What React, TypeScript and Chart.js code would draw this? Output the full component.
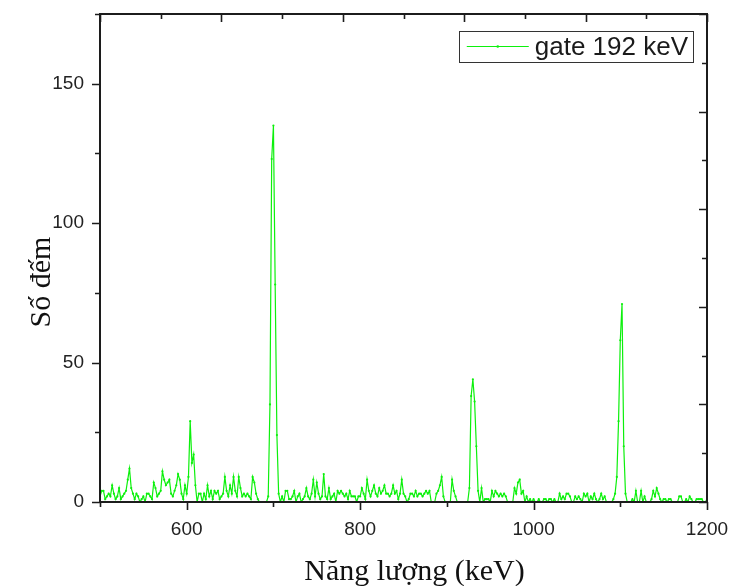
import React, { useEffect, useRef } from "react";
import { Chart, registerables } from "chart.js";

Chart.register(...registerables);

// ---- data ----
const ENERGY_START = 500; // keV, first channel
const ENERGY_STEP = 2; // keV per channel
const COUNTS: number[] = [
  2, 4, 4, 1, 2, 3, 2, 6, 3, 1,
  2, 5, 1, 2, 3, 4, 8, 12, 5, 3,
  1, 3, 2, 0, 1, 2, 0, 3, 3, 2,
  1, 7, 5, 2, 3, 4, 11, 8, 6, 7,
  8, 3, 2, 4, 6, 10, 8, 3, 1, 6,
  3, 9, 29, 14, 17, 6, 0, 3, 3, 0,
  3, 1, 6, 2, 4, 1, 4, 3, 4, 1,
  2, 3, 9, 4, 2, 6, 3, 9, 4, 2,
  9, 5, 2, 3, 2, 3, 2, 1, 9, 7,
  3, 1, 0, 0, 0, 0, 0, 2, 35, 123,
  135, 78, 24, 3, 0, 2, 0, 4, 4, 1,
  1, 2, 4, 0, 2, 3, 0, 1, 2, 5,
  2, 1, 3, 8, 2, 7, 3, 1, 2, 10,
  2, 1, 5, 1, 2, 3, 0, 4, 3, 4,
  3, 2, 3, 1, 4, 2, 2, 2, 0, 2,
  2, 5, 3, 1, 8, 4, 2, 4, 6, 3,
  2, 5, 3, 4, 6, 3, 3, 2, 3, 6,
  3, 4, 1, 3, 8, 3, 2, 0, 1, 3,
  3, 2, 4, 2, 3, 3, 2, 3, 4, 3,
  4, 0, 0, 0, 3, 4, 6, 9, 2, 0,
  0, 0, 0, 8, 4, 2, 0, 0, 0, 0,
  0, 0, 0, 5, 38, 44, 36, 20, 4, 0,
  5, 0, 1, 1, 1, 0, 4, 2, 4, 3,
  2, 3, 2, 3, 2, 0, 0, 0, 0, 5,
  3, 7, 8, 3, 4, 0, 2, 0, 1, 0,
  1, 0, 0, 1, 0, 0, 1, 1, 0, 1,
  1, 0, 1, 0, 0, 3, 1, 2, 1, 3,
  3, 2, 0, 0, 2, 1, 2, 1, 0, 3,
  2, 3, 0, 2, 1, 3, 1, 0, 1, 3,
  1, 2, 0, 0, 0, 0, 1, 3, 9, 29,
  58, 71, 20, 3, 0, 0, 0, 1, 0, 4,
  0, 0, 4, 0, 2, 0, 0, 0, 1, 4,
  2, 5, 3, 1, 0, 1, 1, 0, 1, 1,
  0, 0, 0, 0, 2, 2, 0, 0, 1, 0,
  2, 1, 0, 0, 1, 1, 1, 1, 0, 0,
  1,
];

const SERIES_LABEL = "gate 192 keV";
const X_TITLE = "Năng lượng (keV)";
const Y_TITLE = "Số đếm";

const X_MIN = 500;
const X_MAX = 1200;
const X_MINOR_STEP = 100;
const X_MAJOR_TICKS = [600, 800, 1000, 1200];

const Y_MIN = 0;
const Y_MAX = 175;
const Y_MINOR_STEP = 25;
const Y_MAJOR_TICKS = [0, 50, 100, 150];

// opposite (top / right) frame axes, unlabeled
const OPP_MIN = 0;
const OPP_MAX = 5;
const OPP_MINOR_STEP = 0.5;

const LINE_COLOR = "#0cf00c";
const AXIS_COLOR = "#1c1c1c";
const SANS = '"Liberation Sans", Arial, sans-serif';
const SERIF = '"Liberation Serif", "Times New Roman", serif';

const zeroPad = (s: any) => {
  s.paddingTop = 0;
  s.paddingBottom = 0;
  s.paddingLeft = 0;
  s.paddingRight = 0;
};

const framePlugin = {
  id: "frameTicksLegend",
  afterDraw(chart: any) {
    const { ctx, chartArea: a, scales } = chart;
    const x = scales.x, y = scales.y, x2 = scales.x2, y2 = scales.y2;
    const MAJ = 8, MIN = 5;
    ctx.save();
    ctx.strokeStyle = AXIS_COLOR;
    ctx.lineWidth = 2;
    ctx.strokeRect(a.left, a.top, a.right - a.left, a.bottom - a.top);

    ctx.lineWidth = 1.6;
    ctx.beginPath();
    // bottom, outward
    for (let v = X_MIN; v <= X_MAX; v += X_MINOR_STEP) {
      const px = Math.round(x.getPixelForValue(v)) + 0.5;
      const len = X_MAJOR_TICKS.includes(v) ? MAJ : MIN;
      ctx.moveTo(px, a.bottom);
      ctx.lineTo(px, a.bottom + len);
    }
    // left, outward
    for (let v = Y_MIN; v <= Y_MAX; v += Y_MINOR_STEP) {
      const py = Math.round(y.getPixelForValue(v)) + 0.5;
      const len = Y_MAJOR_TICKS.includes(v) ? MAJ : MIN;
      ctx.moveTo(a.left, py);
      ctx.lineTo(a.left - len, py);
    }
    // top & right, inward
    for (let k = 0; k <= (OPP_MAX - OPP_MIN) / OPP_MINOR_STEP; k++) {
      const v = OPP_MIN + k * OPP_MINOR_STEP;
      const len = k % 2 === 0 ? MAJ : MIN;
      const px = Math.round(x2.getPixelForValue(v)) + 0.5;
      ctx.moveTo(px, a.top);
      ctx.lineTo(px, a.top + len);
      const py = Math.round(y2.getPixelForValue(v)) + 0.5;
      ctx.moveTo(a.right, py);
      ctx.lineTo(a.right - len, py);
    }
    ctx.stroke();

    // axis titles (serif)
    ctx.fillStyle = "#111";
    ctx.font = `30px ${SERIF}`;
    ctx.textAlign = "center";
    ctx.textBaseline = "alphabetic";
    ctx.fillText(X_TITLE, (a.left + a.right) / 2 + 11, 580);
    ctx.save();
    ctx.translate(50, (a.top + a.bottom) / 2 + 24);
    ctx.rotate(-Math.PI / 2);
    ctx.fillText(Y_TITLE, 0, 0);
    ctx.restore();

    // legend
    const ds = chart.data.datasets[0];
    ctx.font = `26px ${SANS}`;
    const tw = ctx.measureText(ds.label).width;
    const sampleW = 62;
    const boxH = 31;
    const boxRight = a.right - 14;
    const boxTop = a.top + 17;
    const boxW = 8 + sampleW + 6 + tw + 5;
    const boxLeft = boxRight - boxW;
    ctx.fillStyle = "#fff";
    ctx.fillRect(boxLeft, boxTop, boxW, boxH);
    ctx.strokeStyle = "#333";
    ctx.lineWidth = 1;
    ctx.strokeRect(Math.round(boxLeft) + 0.5, boxTop + 0.5, Math.round(boxW), boxH);
    const ly = boxTop + boxH / 2;
    ctx.strokeStyle = ds.borderColor;
    ctx.lineWidth = 1.2;
    ctx.beginPath();
    ctx.moveTo(boxLeft + 8, ly);
    ctx.lineTo(boxLeft + 8 + sampleW, ly);
    ctx.stroke();
    ctx.fillStyle = ds.borderColor;
    ctx.beginPath();
    ctx.arc(boxLeft + 8 + sampleW / 2, ly, 1.3, 0, Math.PI * 2);
    ctx.fill();
    ctx.fillStyle = "#1a1a1a";
    ctx.textBaseline = "middle";
    ctx.textAlign = "left";
    ctx.fillText(ds.label, boxLeft + 8 + sampleW + 6, ly + 1);
    ctx.restore();
  },
};

export default function App() {
  const ref = useRef<HTMLCanvasElement | null>(null);

  useEffect(() => {
    if (!ref.current) return;
    const points = COUNTS.map((c, i) => ({ x: ENERGY_START + i * ENERGY_STEP, y: c }));
    const chart = new Chart(ref.current, {
      type: "line",
      data: {
        datasets: [
          {
            label: SERIES_LABEL,
            data: points,
            borderColor: LINE_COLOR,
            backgroundColor: LINE_COLOR,
            borderWidth: 1.2,
            pointRadius: 1.1,
            pointBorderWidth: 0,
            pointBackgroundColor: LINE_COLOR,
            tension: 0,
            fill: false,
          },
        ],
      },
      options: {
        responsive: false,
        animation: false,
        devicePixelRatio: 1,
        layout: { padding: { top: 14, right: 26, left: 0, bottom: 0 } },
        plugins: { legend: { display: false }, tooltip: { enabled: false } },
        scales: {
          x: {
            type: "linear",
            position: "bottom",
            min: X_MIN,
            max: X_MAX,
            afterBuildTicks: (s: any) => {
              s.ticks = X_MAJOR_TICKS.map((v) => ({ value: v }));
            },
            ticks: {
              autoSkip: false,
              maxRotation: 0,
              padding: 16,
              color: "#222",
              font: { family: SANS, size: 19 },
              callback: (v: any) => String(v),
            },
            grid: { display: false, drawTicks: false },
            border: { display: false },
            afterFit: (s: any) => {
              s.height = 84;
              zeroPad(s);
            },
          },
          y: {
            type: "linear",
            position: "left",
            min: Y_MIN,
            max: Y_MAX,
            afterBuildTicks: (s: any) => {
              s.ticks = Y_MAJOR_TICKS.map((v) => ({ value: v }));
            },
            ticks: {
              autoSkip: false,
              padding: 16,
              color: "#222",
              font: { family: SANS, size: 19 },
              callback: (v: any) => String(v),
            },
            grid: { display: false, drawTicks: false },
            border: { display: false },
            afterFit: (s: any) => {
              s.width = 100;
              zeroPad(s);
            },
          },
          x2: {
            type: "linear",
            position: "top",
            min: OPP_MIN,
            max: OPP_MAX,
            display: false,
          },
          y2: {
            type: "linear",
            position: "right",
            min: OPP_MIN,
            max: OPP_MAX,
            display: false,
          },
        },
      },
      plugins: [framePlugin],
    });
    return () => chart.destroy();
  }, []);

  return (
    <div style={{ position: "absolute", left: 0, top: 0, width: 733, height: 586, background: "#fff" }}>
      <canvas ref={ref} width={733} height={586} style={{ display: "block" }} />
    </div>
  );
}
